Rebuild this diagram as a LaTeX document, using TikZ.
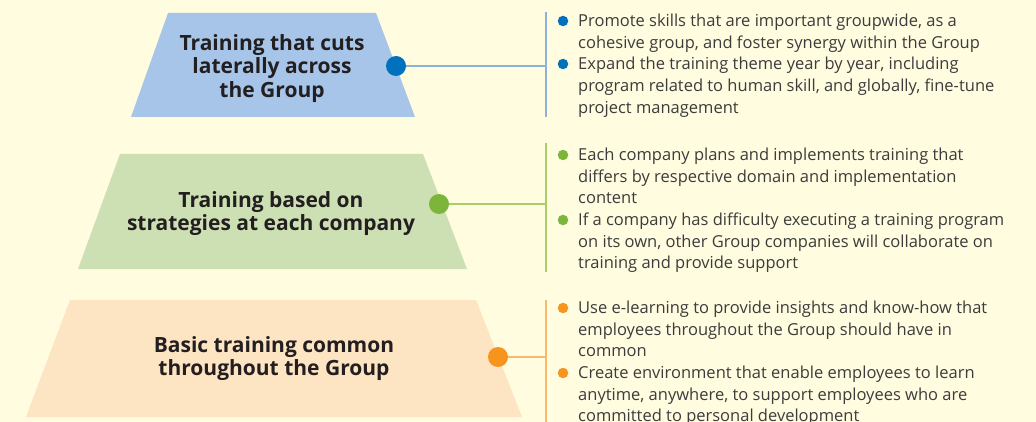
\documentclass[tikz,border=0pt]{standalone}
\usepackage{fontspec}
\setmainfont{Open Sans}
\definecolor{bg}{HTML}{FFFCE0}
\definecolor{blueT}{HTML}{A7C5E8}
\definecolor{blueD}{HTML}{0071BC}
\definecolor{blueL}{HTML}{8DB0DC}
\definecolor{greenT}{HTML}{CDE0B4}
\definecolor{greenD}{HTML}{7DB53B}
\definecolor{greenL}{HTML}{A6CF6C}
\definecolor{orangeT}{HTML}{FDE4C3}
\definecolor{orangeD}{HTML}{F7941D}
\definecolor{orangeL}{HTML}{F9B96A}
\definecolor{titletxt}{HTML}{231F20}
\definecolor{itemtxt}{HTML}{3C3C3C}
\tikzset{
  title/.style={align=center, inner sep=0pt, text=titletxt, font=\fontsize{21}{23.5}\selectfont\bfseries},
  item/.style={anchor=north west, align=left, inner sep=0pt, text=itemtxt, font=\fontsize{16.5}{21.6}\selectfont},
  dot/.style={circle, minimum size=20pt, inner sep=0pt},
  bul/.style={circle, minimum size=10.5pt, inner sep=0pt},
  link/.style={line width=1.1pt}
}
\begin{document}
\begin{tikzpicture}[x=1pt,y=-1pt]
\clip (0,0) rectangle (1036,422);
\fill[bg] (0,0) rectangle (1036,422);
% tier 1
\fill[blueT] (168,13) -- (376,13) -- (415,117) -- (131,117) -- cycle;
\node[title] (t1) at (272,68.5) {Training that cuts\\laterally across\\the Group};
\coordinate (v1top) at (546,12);
\coordinate (v1bot) at (546,117);
\draw[link, blueL] (v1top) -- (v1bot);
\node[dot, fill=blueD] (d1) at (396,66) {};
\draw[link, blueL] (d1.east) -- (d1 -| v1top);
\node[bul, fill=blueD] (p1a) at (563,21) {};
\node[item] (i1a) at (578,14) {Promote skills that are important groupwide, as a\\cohesive group, and foster synergy within the Group};
\node[bul, fill=blueD] (p1b) at (563,64) {};
\node[item] (i1b) at (578,57.2) {Expand the training theme year by year, including\\program related to human skill, and globally, fine-tune\\project management};
% tier 2
\fill[greenT] (120,154) -- (423,154) -- (467,269) -- (78,269) -- cycle;
\node[title] (t2) at (271,213.5) {Training based on\\strategies at each company};
\coordinate (v2top) at (546,143);
\coordinate (v2bot) at (546,272);
\draw[link, greenL] (v2top) -- (v2bot);
\node[dot, fill=greenD] (d2) at (439,204) {};
\draw[link, greenL] (d2.east) -- (d2 -| v2top);
\node[bul, fill=greenD] (p2a) at (563,155) {};
\node[item] (i2a) at (578,148) {Each company plans and implements training that\\differs by respective domain and implementation\\content};
\node[bul, fill=greenD] (p2b) at (563,220) {};
\node[item] (i2b) at (578,212.8) {If a company has difficulty executing a training program\\on its own, other Group companies will collaborate on\\training and provide support};
% tier 3
\fill[orangeT] (70,300) -- (476,300) -- (522,417) -- (26,417) -- cycle;
\node[title] (t3) at (274,358.5) {Basic training common\\throughout the Group};
\coordinate (v3top) at (546,300);
\coordinate (v3bot) at (546,422);
\draw[link, orangeL] (v3top) -- (v3bot);
\node[dot, fill=orangeD] (d3) at (498,357) {};
\draw[link, orangeL] (d3.east) -- (d3 -| v3top);
\node[bul, fill=orangeD] (p3a) at (563,308) {};
\node[item] (i3a) at (578,301) {Use e-learning to provide insights and know-how that\\employees throughout the Group should have in\\common};
\node[bul, fill=orangeD] (p3b) at (563,373) {};
\node[item] (i3b) at (578,365.8) {Create environment that enable employees to learn\\anytime, anywhere, to support employees who are\\committed to personal development};
\end{tikzpicture}
\end{document}
